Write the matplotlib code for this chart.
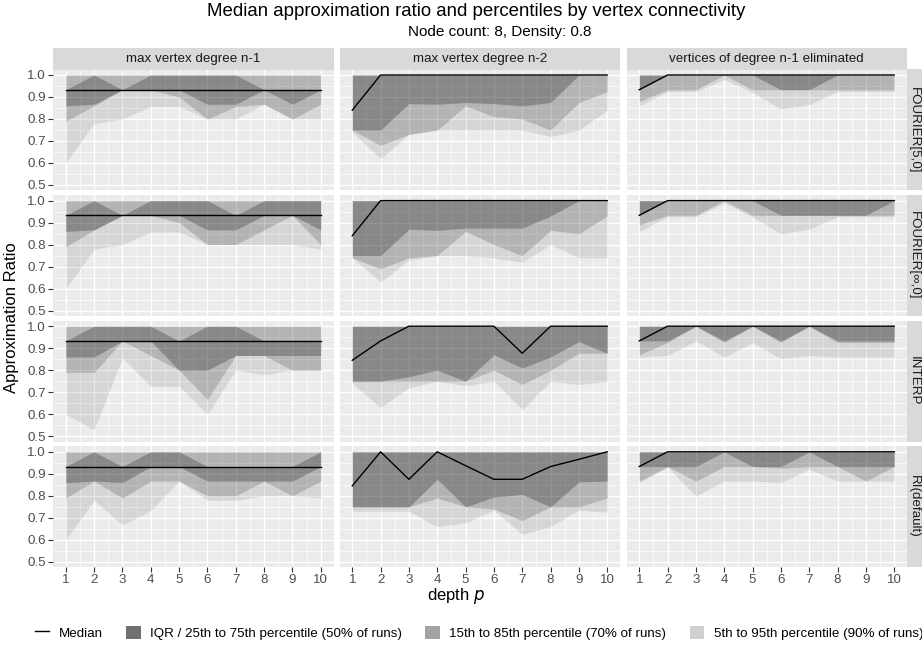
import matplotlib.pyplot as plt
from matplotlib.lines import Line2D
from matplotlib.patches import Patch

plt.rcParams['font.family'] = ['Liberation Sans', 'DejaVu Sans']

# depth values on the x axis
depth = [1, 2, 3, 4, 5, 6, 7, 8, 9, 10]

col_labels = ["max vertex degree n-1", "max vertex degree n-2",
              "vertices of degree n-1 eliminated"]
row_labels = ["FOURIER[5,0]", "FOURIER[\u221e,0]", "INTERP", "RI(default)"]

# each panel: [p5, p15, p25, median, p75, p85, p95]
f5_deg1 = [
    [0.60, 0.78, 0.80, 0.857, 0.857, 0.80, 0.80, 0.867, 0.80, 0.80],
    [0.79, 0.86, 0.933, 0.933, 0.90, 0.80, 0.857, 0.867, 0.80, 0.867],
    [0.86, 0.867, 0.933, 0.933, 0.933, 0.867, 0.867, 0.933, 0.867, 0.933],
    [0.933] * 10,
    [0.933, 1.0, 0.933, 1.0, 1.0, 1.0, 1.0, 0.933, 0.933, 0.933],
    [1.0] * 10,
    [1.0] * 10,
]
f5_deg2 = [
    [0.74, 0.62, 0.73, 0.75, 0.75, 0.75, 0.75, 0.72, 0.75, 0.84],
    [0.75, 0.68, 0.73, 0.75, 0.86, 0.81, 0.80, 0.75, 0.875, 0.925],
    [0.75, 0.75, 0.87, 0.867, 0.875, 0.87, 0.86, 0.875, 1.0, 1.0],
    [0.84, 1.0, 1.0, 1.0, 1.0, 1.0, 1.0, 1.0, 1.0, 1.0],
    [1.0] * 10,
    [1.0] * 10,
    [1.0] * 10,
]
f5_elim = [
    [0.86, 0.925, 0.925, 0.98, 0.92, 0.846, 0.866, 0.925, 0.925, 0.925],
    [0.88, 0.933, 0.933, 1.0, 0.933, 0.933, 0.933, 0.933, 0.933, 0.933],
    [0.933, 1.0, 1.0, 1.0, 1.0, 0.933, 0.933, 1.0, 1.0, 1.0],
    [0.933, 1.0, 1.0, 1.0, 1.0, 1.0, 1.0, 1.0, 1.0, 1.0],
    [1.0] * 10,
    [1.0] * 10,
    [1.0] * 10,
]
finf_deg1 = [
    [0.60, 0.78, 0.80, 0.857, 0.857, 0.80, 0.80, 0.80, 0.80, 0.78],
    [0.79, 0.867, 0.933, 0.933, 0.90, 0.80, 0.80, 0.867, 0.933, 0.80],
    [0.86, 0.867, 0.933, 0.933, 0.933, 0.867, 0.867, 0.933, 0.933, 0.867],
    [0.933] * 10,
    [0.933, 1.0, 0.933, 1.0, 1.0, 1.0, 0.933, 1.0, 1.0, 1.0],
    [1.0] * 10,
    [1.0] * 10,
]
finf_deg2 = [
    [0.74, 0.63, 0.73, 0.75, 0.75, 0.74, 0.72, 0.80, 0.74, 0.74],
    [0.74, 0.69, 0.74, 0.75, 0.86, 0.80, 0.75, 0.865, 0.85, 0.93],
    [0.75, 0.75, 0.87, 0.865, 0.875, 0.875, 0.875, 0.93, 1.0, 1.0],
    [0.84, 1.0, 1.0, 1.0, 1.0, 1.0, 1.0, 1.0, 1.0, 1.0],
    [1.0] * 10,
    [1.0] * 10,
    [1.0] * 10,
]
finf_elim = [
    [0.86, 0.926, 0.926, 0.99, 0.926, 0.85, 0.87, 0.926, 0.926, 0.926],
    [0.89, 0.933, 0.933, 1.0, 0.933, 0.933, 0.933, 0.933, 0.933, 0.933],
    [0.933, 1.0, 1.0, 1.0, 1.0, 0.933, 0.933, 0.933, 0.933, 1.0],
    [0.933, 1.0, 1.0, 1.0, 1.0, 1.0, 1.0, 1.0, 1.0, 1.0],
    [1.0] * 10,
    [1.0] * 10,
    [1.0] * 10,
]
interp_deg1 = [
    [0.60, 0.53, 0.857, 0.727, 0.727, 0.60, 0.80, 0.78, 0.80, 0.80],
    [0.79, 0.79, 0.933, 0.867, 0.80, 0.667, 0.867, 0.867, 0.80, 0.80],
    [0.86, 0.86, 0.933, 0.933, 0.80, 0.80, 0.867, 0.867, 0.867, 0.867],
    [0.933] * 10,
    [0.933, 1.0, 1.0, 1.0, 0.933, 1.0, 1.0, 0.933, 0.933, 0.933],
    [1.0] * 10,
    [1.0] * 10,
]
interp_deg2 = [
    [0.74, 0.63, 0.72, 0.75, 0.73, 0.75, 0.62, 0.75, 0.735, 0.75],
    [0.75, 0.75, 0.75, 0.75, 0.75, 0.80, 0.735, 0.80, 0.877, 0.877],
    [0.75, 0.75, 0.77, 0.80, 0.75, 0.87, 0.81, 0.86, 0.93, 0.877],
    [0.845, 0.933, 1.0, 1.0, 1.0, 1.0, 0.877, 1.0, 1.0, 1.0],
    [1.0] * 10,
    [1.0] * 10,
    [1.0] * 10,
]
interp_elim = [
    [0.86, 0.867, 0.933, 0.86, 0.925, 0.853, 0.866, 0.86, 0.86, 0.86],
    [0.87, 0.926, 1.0, 0.926, 1.0, 0.926, 1.0, 0.926, 0.926, 0.926],
    [0.933, 0.933, 1.0, 0.933, 1.0, 0.933, 1.0, 0.933, 0.933, 0.933],
    [0.933, 1.0, 1.0, 1.0, 1.0, 1.0, 1.0, 1.0, 1.0, 1.0],
    [1.0] * 10,
    [1.0] * 10,
    [1.0] * 10,
]
ri_deg1 = [
    [0.60, 0.78, 0.667, 0.733, 0.867, 0.78, 0.78, 0.80, 0.80, 0.79],
    [0.79, 0.867, 0.79, 0.867, 0.867, 0.80, 0.80, 0.867, 0.80, 0.867],
    [0.86, 0.867, 0.86, 0.933, 0.933, 0.867, 0.867, 0.867, 0.867, 0.933],
    [0.933] * 10,
    [0.933, 1.0, 0.933, 1.0, 1.0, 0.933, 0.933, 0.933, 0.933, 1.0],
    [1.0] * 10,
    [1.0] * 10,
]
ri_deg2 = [
    [0.73, 0.73, 0.73, 0.66, 0.677, 0.735, 0.625, 0.66, 0.735, 0.725],
    [0.75, 0.75, 0.75, 0.79, 0.75, 0.74, 0.687, 0.75, 0.75, 0.79],
    [0.75, 0.75, 0.75, 0.875, 0.75, 0.794, 0.806, 0.75, 0.863, 0.867],
    [0.845, 1.0, 0.875, 1.0, 0.937, 0.875, 0.875, 0.933, 0.966, 1.0],
    [1.0] * 10,
    [1.0] * 10,
    [1.0] * 10,
]
ri_elim = [
    [0.86, 0.93, 0.80, 0.867, 0.867, 0.86, 0.92, 0.867, 0.867, 0.867],
    [0.867, 0.933, 0.867, 0.933, 0.933, 0.926, 0.933, 0.933, 0.867, 0.933],
    [0.933, 0.933, 0.933, 1.0, 0.933, 0.933, 1.0, 0.933, 0.933, 0.933],
    [0.933, 1.0, 1.0, 1.0, 1.0, 1.0, 1.0, 1.0, 1.0, 1.0],
    [1.0] * 10,
    [1.0] * 10,
    [1.0] * 10,
]

panels = [
    [f5_deg1, f5_deg2, f5_elim],
    [finf_deg1, finf_deg2, finf_elim],
    [interp_deg1, interp_deg2, interp_elim],
    [ri_deg1, ri_deg2, ri_elim],
]

W, H = 922, 645
fig = plt.figure(figsize=(W / 100, H / 100), dpi=100)


def px_axes(x, y, w, h):
    return fig.add_axes([x / W, 1 - (y + h) / H, w / W, h / H])


col_left = [53, 339.5, 626.5]
panel_w = 280.5
row_top = [69.5, 195.1, 320.7, 446.3]
panel_h = 121

bg = '#EBEBEB'
strip_bg = '#D9D9D9'
small = 9.6

for r in range(4):
    for c in range(3):
        ax = px_axes(col_left[c], row_top[r], panel_w, panel_h)
        ax.set_facecolor(bg)
        for s in ax.spines.values():
            s.set_visible(False)
        ax.set_xlim(0.55, 10.45)
        ax.set_ylim(0.475, 1.025)
        ax.set_xticks(depth)
        ax.set_xticks([x + 0.5 for x in depth[:-1]], minor=True)
        ax.set_yticks([0.5, 0.6, 0.7, 0.8, 0.9, 1.0])
        ax.set_yticks([0.55, 0.65, 0.75, 0.85, 0.95], minor=True)
        ax.grid(which='major', color='white', lw=1.0)
        ax.grid(which='minor', color='white', lw=0.5)
        ax.set_axisbelow(True)

        p5, p15, p25, med, p75, p85, p95 = panels[r][c]
        ax.fill_between(depth, p5, p95, color='black', alpha=0.09, lw=0)
        ax.fill_between(depth, p15, p85, color='black', alpha=0.155, lw=0)
        ax.fill_between(depth, p25, p75, color='black', alpha=0.24, lw=0)
        ax.plot(depth, med, color='black', lw=1.0)

        ax.tick_params(which='minor', length=0)
        ax.tick_params(which='major', length=3.5, width=0.8, color='#333333',
                       labelsize=small, labelcolor='#4D4D4D', pad=1.5)
        if c == 0:
            ax.set_yticklabels(['0.5', '0.6', '0.7', '0.8', '0.9', '1.0'])
        else:
            ax.tick_params(axis='y', which='major', length=0, labelleft=False)
        if r == 3:
            ax.set_xticklabels([str(d) for d in depth])
        else:
            ax.tick_params(axis='x', which='major', length=0, labelbottom=False)

        if r == 0:
            sax = px_axes(col_left[c], 48, panel_w, 21.5)
            sax.set_facecolor(strip_bg)
            sax.set_xticks([])
            sax.set_yticks([])
            for s in sax.spines.values():
                s.set_visible(False)
            sax.text(0.5, 0.5, col_labels[c], ha='center', va='center',
                     fontsize=small, color='#1A1A1A', transform=sax.transAxes)
        if c == 2:
            sax = px_axes(907, row_top[r], 21.5, panel_h)
            sax.set_facecolor(strip_bg)
            sax.set_xticks([])
            sax.set_yticks([])
            for s in sax.spines.values():
                s.set_visible(False)
            sax.text(0.33, 0.5, row_labels[r], ha='center', va='center',
                     rotation=-90, fontsize=small, color='#1A1A1A',
                     transform=sax.transAxes)

fig.text(476 / W, 1 - 12 / H, "Median approximation ratio and percentiles by vertex connectivity",
         ha='center', va='center', fontsize=13.4, color='black')
fig.text(500 / W, 1 - 32 / H, "Node count: 8, Density: 0.8",
         ha='center', va='center', fontsize=11, color='black')
fig.text(456 / W, 1 - 596 / H, "depth $p$", ha='center', va='center', fontsize=12)
fig.text(12 / W, 1 - 318 / H, "Approximation Ratio", ha='center', va='center',
         rotation=90, fontsize=12)

handles = [
    Line2D([], [], color='black', lw=1.0),
    Patch(facecolor='#707070', edgecolor='none'),
    Patch(facecolor='#A3A3A3', edgecolor='none'),
    Patch(facecolor='#CFCFCF', edgecolor='none'),
]
labels = ["Median", "IQR / 25th to 75th percentile (50% of runs)",
          "15th to 85th percentile (70% of runs)",
          "5th to 95th percentile (90% of runs)"]
fig.legend(handles, labels, loc='center', bbox_to_anchor=(479 / W, 1 - 633 / H),
           ncol=4, frameon=False, fontsize=9.6, handlelength=1.1,
           handleheight=1.1, columnspacing=1.75, handletextpad=0.7,
           borderaxespad=0, borderpad=0)

fig.savefig('out.png', dpi=100)
